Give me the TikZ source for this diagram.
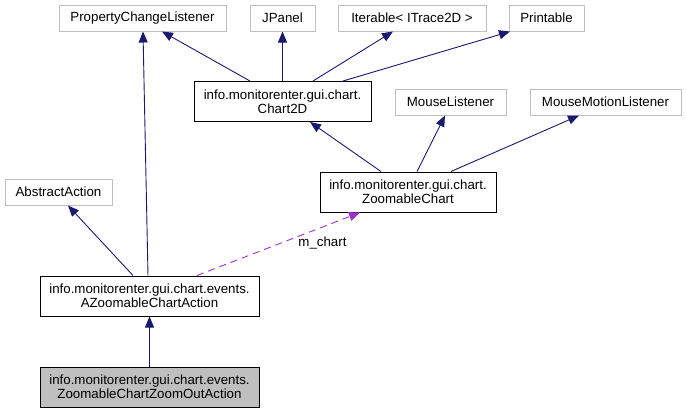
\documentclass[tikz,border=0pt]{standalone}
\usepackage{fontspec}
\setmainfont{Liberation Sans}
\usetikzlibrary{arrows.meta}
\definecolor{edgeblue}{HTML}{191970}
\definecolor{graybord}{HTML}{BFBFBF}
\definecolor{dashpurple}{HTML}{9A32CD}
\begin{document}
\begin{tikzpicture}[x=1pt,y=-1pt,
  every node/.style={font=\fontsize{13.3}{13.6}\selectfont, inner sep=0pt, align=center},
  extbox/.style={draw=graybord, line width=1pt, fill=white, minimum height=26pt},
  clsbox/.style={draw=black, line width=1pt, fill=white, minimum height=40pt},
  curbox/.style={draw=black, line width=1pt, fill=graybord, minimum height=40pt},
  inh/.style={draw=edgeblue, line width=0.9pt, -{Triangle[length=11pt,width=9pt]}},
  usage/.style={draw=dashpurple, line width=0.9pt, dash pattern=on 7pt off 5pt, -{Triangle[length=11pt,width=9pt]}}]
\useasboundingbox (0,0) rectangle (686,413);
\node[extbox, minimum width=167pt] (pcl) at (142.5,18) {PropertyChangeListener};
\node[extbox, minimum width=65pt] (jpanel) at (282.5,18) {JPanel};
\node[extbox, minimum width=148pt] (iter) at (412,18) {Iterable< ITrace2D >};
\node[extbox, minimum width=75pt] (print) at (546.5,18) {Printable};
\node[clsbox, minimum width=177pt] (chart) at (282.5,101.5) {info.monitorenter.gui.chart.\\Chart2D};
\node[extbox, minimum width=111pt] (ml) at (450.5,102) {MouseListener};
\node[extbox, minimum width=151pt] (mml) at (605.5,102) {MouseMotionListener};
\node[extbox, minimum width=107pt] (aa) at (58.5,192) {AbstractAction};
\node[clsbox, minimum width=176pt] (zc) at (408,192) {info.monitorenter.gui.chart.\\ZoomableChart};
\node[clsbox, minimum width=219pt] (azca) at (149.5,296) {info.monitorenter.gui.chart.events.\\AZoomableChartAction};
\node[curbox, minimum width=219pt] (zoa) at (149.5,387) {info.monitorenter.gui.chart.events.\\ZoomableChartZoomOutAction};
\draw[inh] ([xshift=-32.5pt]chart.north) -- ([xshift=19.5pt]pcl.south);
\draw[inh] (chart.north) -- (jpanel.south);
\draw[inh] ([xshift=30.5pt]chart.north) -- ([xshift=-19pt]iter.south);
\draw[inh] ([xshift=60.5pt]chart.north) -- ([xshift=-36.5pt]print.south);
\draw[inh] ([xshift=-27pt]zc.north) -- ([xshift=27.5pt]chart.south);
\draw[inh] ([xshift=9pt]zc.north) -- ([xshift=-5.5pt]ml.south);
\draw[inh] ([xshift=43pt]zc.north) -- ([xshift=-26.5pt]mml.south);
\draw[inh] ([xshift=-1.5pt]azca.north) -- ([xshift=0.5pt]pcl.south);
\draw[inh] ([xshift=-16.5pt]azca.north) -- ([xshift=9.5pt]aa.south);
\draw[usage] ([xshift=47.5pt]azca.north) -- ([xshift=-48pt]zc.south);
\node (lbl) at (322.5,243) {m\_chart};
\draw[inh] (zoa.north) -- (azca.south);
\end{tikzpicture}
\end{document}
